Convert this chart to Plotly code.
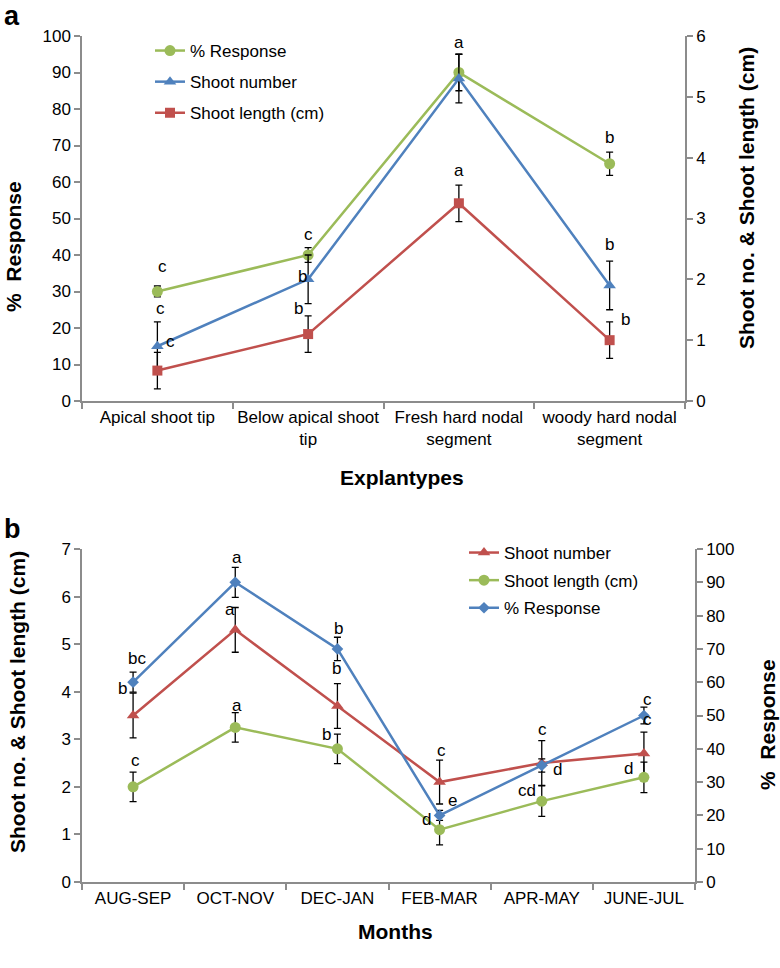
import plotly.graph_objects as go

# ---------------- data: panel a ----------------
explants = ["Apical shoot tip", "Below apical shoot<br>tip", "Fresh hard nodal<br>segment", "woody hard nodal<br>segment"]
a_response = [30, 40, 90, 65]
a_response_err = [1.5, 2.0, 5.0, 3.2]
a_shoot_no = [0.9, 2.0, 5.3, 1.9]
a_shoot_no_err = [0.4, 0.4, 0.4, 0.4]
a_shoot_len = [0.5, 1.1, 3.25, 1.0]
a_shoot_len_err = [0.3, 0.3, 0.3, 0.3]

# letters: (series, category index, text, xshift px, yshift px)
a_letters = [
    ("resp", 0, "c", 5, 25), ("no", 0, "c", 3, 38), ("no", 0, "c", 13, 5),
    ("resp", 1, "c", 0, 21), ("no", 1, "b", -6, 3), ("len", 1, "b", -10, 26),
    ("resp", 2, "a", 0, 30), ("len", 2, "a", 0, 33),
    ("resp", 3, "b", 0, 26), ("no", 3, "b", 0, 41), ("len", 3, "b", 16, 21),
]

# ---------------- data: panel b ----------------
months = ["AUG-SEP", "OCT-NOV", "DEC-JAN", "FEB-MAR", "APR-MAY", "JUNE-JUL"]
b_shoot_no = [3.5, 5.3, 3.7, 2.1, 2.5, 2.7]
b_shoot_no_err = [0.47, 0.47, 0.47, 0.46, 0.47, 0.45]
b_shoot_len = [2.0, 3.25, 2.8, 1.1, 1.7, 2.2]
b_shoot_len_err = [0.31, 0.31, 0.31, 0.32, 0.32, 0.32]
b_response = [60, 90, 70, 20, 35, 50]
b_response_err = [3.0, 4.5, 3.5, 1.5, 2.0, 2.5]

b_letters = [
    ("resp", 0, "bc", 4, 24), ("no", 0, "b", -11, 27), ("len", 0, "c", 2, 26),
    ("resp", 1, "a", 2, 25), ("no", 1, "a", -5, 20), ("len", 1, "a", 2, 22),
    ("resp", 2, "b", 1, 20), ("no", 2, "b", -1, 37), ("len", 2, "b", -11, 14),
    ("no", 3, "c", 2, 32), ("resp", 3, "e", 13, 15), ("len", 3, "d", -13, 10),
    ("resp", 4, "c", 1, 36), ("resp", 4, "d", 16, -4), ("len", 4, "cd", -15, 11),
    ("resp", 5, "c", 4, 16), ("no", 5, "c", 4, 34), ("len", 5, "d", -15, 9),
]

GREEN = "#9BBB59"
BLUE = "#4F81BD"
RED = "#C0504D"
AXC = "#8c8c8c"
FONT = "Liberation Sans"
W, H = 780, 968

def px_x(p):
    return p / W

def px_y(p):
    return 1 - p / H

fig = go.Figure()

def add_series(x, y, err, color, symbol, size, name, xa, ya, legend):
    fig.add_trace(go.Scatter(
        x=x, y=y, name=name, mode="lines+markers",
        xaxis=xa, yaxis=ya, legend=legend, legendgroup=name,
        line=dict(color=color, width=2.5),
        marker=dict(color=color, symbol=symbol, size=size),
        error_y=dict(type="data", array=err, visible=True, color="black", thickness=1.3, width=3.5),
    ))

# panel a
add_series(explants, a_response, a_response_err, GREEN, "circle", 11, "% Response", "x", "y", "legend")
add_series(explants, a_shoot_no, a_shoot_no_err, BLUE, "triangle-up", 11, "Shoot number", "x", "y2", "legend")
add_series(explants, a_shoot_len, a_shoot_len_err, RED, "square", 10, "Shoot length (cm)", "x", "y2", "legend")

# panel b
add_series(months, b_shoot_no, b_shoot_no_err, RED, "triangle-up", 11, "Shoot number", "x2", "y3", "legend2")
add_series(months, b_shoot_len, b_shoot_len_err, GREEN, "circle", 11, "Shoot length (cm)", "x2", "y3", "legend2")
add_series(months, b_response, b_response_err, BLUE, "diamond", 9, "% Response", "x2", "y4", "legend2")

annotations = []
a_map = {"resp": (a_response, "y"), "no": (a_shoot_no, "y2"), "len": (a_shoot_len, "y2")}
for s, i, t, dx, dy in a_letters:
    vals, yref = a_map[s]
    annotations.append(dict(x=explants[i], y=vals[i], xref="x", yref=yref, text=t,
                            showarrow=False, xshift=dx, yshift=dy,
                            font=dict(size=17, family=FONT, color="black")))
b_map = {"resp": (b_response, "y4"), "no": (b_shoot_no, "y3"), "len": (b_shoot_len, "y3")}
for s, i, t, dx, dy in b_letters:
    vals, yref = b_map[s]
    annotations.append(dict(x=months[i], y=vals[i], xref="x2", yref=yref, text=t,
                            showarrow=False, xshift=dx, yshift=dy,
                            font=dict(size=17, family=FONT, color="black")))

def title_ann(text, x, y, angle=0, size=21):
    return dict(x=px_x(x), y=px_y(y), xref="paper", yref="paper", text="<b>" + text + "</b>",
                showarrow=False, textangle=angle, xanchor="center", yanchor="middle",
                font=dict(size=size, family=FONT, color="black"))

annotations += [
    title_ann("a", 12, 16, size=27),
    title_ann("b", 12, 529, size=27),
    title_ann("%  Response", 13, 247, -90),
    title_ann("Shoot no. &amp; Shoot length (cm)", 746, 198, -90),
    title_ann("Explantypes", 402, 477),
    title_ann("Shoot no. &amp; Shoot length (cm)", 17, 702, -90),
    title_ann("%  Response", 767, 725, -90),
    title_ann("Months", 395, 931),
]

common_x = dict(type="category", tickson="boundaries", ticks="outside", ticklen=6,
                tickcolor=AXC, tickwidth=1.5, showline=True, linecolor=AXC, linewidth=1.5,
                showgrid=False, zeroline=False, tickangle=0, automargin=False,
                tickfont=dict(size=17, family=FONT, color="black"))
common_y = dict(ticks="outside", ticklen=6, tickcolor=AXC, tickwidth=1.5, showline=True,
                linecolor=AXC, linewidth=1.5, showgrid=False, zeroline=False, automargin=False,
                tickfont=dict(size=17, family=FONT, color="black"))

fig.update_layout(
    width=W, height=H,
    margin=dict(l=0, r=0, t=0, b=0, autoexpand=False),
    paper_bgcolor="white", plot_bgcolor="white",
    font=dict(family=FONT, size=17, color="black"),
    xaxis=dict(common_x, domain=[px_x(82), px_x(685)], anchor="y", range=[-0.5, 3.5]),
    yaxis=dict(common_y, domain=[px_y(401), px_y(36)], anchor="x", range=[0, 100], dtick=10),
    yaxis2=dict(common_y, overlaying="y", side="right", anchor="x", range=[0, 6], dtick=1),
    xaxis2=dict(common_x, domain=[px_x(82), px_x(695)], anchor="y3", range=[-0.5, 5.5]),
    yaxis3=dict(common_y, domain=[px_y(882), px_y(549)], anchor="x2", range=[0, 7], dtick=1),
    yaxis4=dict(common_y, overlaying="y3", side="right", anchor="x2", range=[0, 100], dtick=10),
    legend=dict(x=px_x(150), y=px_y(33), xanchor="left", yanchor="top", bgcolor="rgba(0,0,0,0)",
                font=dict(size=17, family=FONT, color="black"), tracegroupgap=6, itemwidth=30),
    legend2=dict(x=px_x(464), y=px_y(535), xanchor="left", yanchor="top", bgcolor="rgba(0,0,0,0)",
                 font=dict(size=17, family=FONT, color="black"), tracegroupgap=2.5, itemwidth=30),
    annotations=annotations,
    showlegend=True,
)

fig.write_html(
    "out.html",
    config={"displayModeBar": False},
    post_script="document.body.style.margin='0';document.body.style.overflow='hidden';",
)
